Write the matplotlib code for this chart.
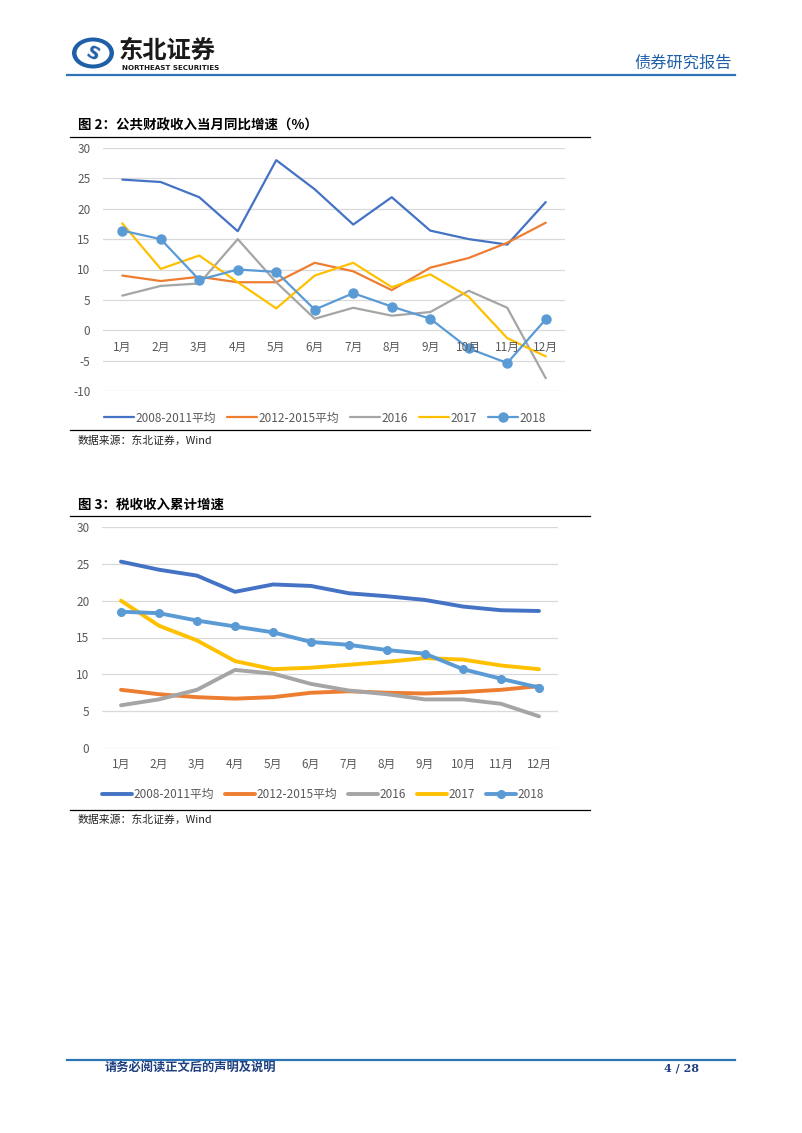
import matplotlib
matplotlib.use("Agg")
import matplotlib.pyplot as plt
from matplotlib.lines import Line2D
from matplotlib.patches import Ellipse
import matplotlib.transforms as mtransforms

plt.rcParams['font.family'] = ['Noto Sans CJK SC', 'DejaVu Sans']
plt.rcParams['axes.unicode_minus'] = False

# data
months = ['1月', '2月', '3月', '4月', '5月', '6月', '7月', '8月', '9月', '10月', '11月', '12月']
series_names = ['2008-2011平均', '2012-2015平均', '2016', '2017', '2018']

# 图2: 公共财政收入当月同比增速 (%)
monthly_0811 = [24.8, 24.4, 21.9, 16.3, 28.0, 23.2, 17.4, 21.9, 16.4, 15.0, 14.1, 21.1]
monthly_1215 = [9.0, 8.1, 8.8, 7.9, 7.9, 11.1, 9.7, 6.6, 10.3, 11.9, 14.4, 17.7]
monthly_2016 = [5.7, 7.3, 7.7, 15.0, 7.9, 1.9, 3.7, 2.4, 3.0, 6.5, 3.7, -7.9]
monthly_2017 = [17.6, 10.1, 12.3, 7.9, 3.6, 9.0, 11.1, 7.1, 9.2, 5.5, -1.3, -4.3]
monthly_2018 = [16.4, 15.0, 8.3, 10.0, 9.6, 3.4, 6.1, 3.9, 1.9, -3.0, -5.4, 1.8]

# 图3: 税收收入累计增速
cum_0811 = [25.3, 24.2, 23.4, 21.2, 22.2, 22.0, 21.0, 20.6, 20.1, 19.2, 18.7, 18.6]
cum_1215 = [7.9, 7.3, 6.9, 6.7, 6.9, 7.5, 7.7, 7.5, 7.4, 7.6, 7.9, 8.4]
cum_2016 = [5.8, 6.6, 7.9, 10.6, 10.1, 8.7, 7.8, 7.3, 6.6, 6.6, 6.0, 4.3]
cum_2017 = [20.0, 16.6, 14.6, 11.8, 10.7, 10.9, 11.3, 11.7, 12.2, 12.0, 11.2, 10.7]
cum_2018 = [18.5, 18.3, 17.3, 16.5, 15.7, 14.4, 14.0, 13.3, 12.8, 10.7, 9.4, 8.2]

colors = ['#4472C4', '#ED7D31', '#A5A5A5', '#FFC000', '#5B9BD5']

W, H = 802, 1133
fig = plt.figure(figsize=(W / 100, H / 100), dpi=100)


def fx(px):
    return px / W


def fy(py):
    return 1 - py / H


def hline(x0, x1, y, color='black', lw=0.9):
    fig.add_artist(Line2D([fx(x0), fx(x1)], [fy(y), fy(y)], color=color, lw=lw,
                          transform=fig.transFigure))


def ellipse(cx, cy, w, h, color):
    fig.add_artist(Ellipse((fx(cx), fy(cy)), w / W, h / H, transform=fig.transFigure,
                           facecolor=color, edgecolor='none'))


# header: logo + names
ellipse(93, 53, 42, 31, '#1F5FA8')
ellipse(93, 53, 33, 23, 'white')
fig.text(fx(93), fy(54), 'S', color='#1F5FA8', fontsize=13, fontweight='bold',
         ha='center', va='center', rotation=-25, family='DejaVu Sans')
fig.text(fx(119), fy(51), '东北证券', fontsize=17.5, fontweight='bold', color='#1a1a1a',
         ha='left', va='center')
fig.text(fx(122), fy(67.5), 'NORTHEAST SECURITIES', fontsize=5.1, fontweight='bold',
         color='#1a1a1a', ha='left', va='center', family='DejaVu Sans')
fig.text(fx(732), fy(63.5), '债券研究报告', fontsize=11.7, color='#1F5FA8',
         ha='right', va='center')
hline(67, 735, 75, color='#2E75B6', lw=1.6)

# footer
hline(67, 735, 1060, color='#2E75B6', lw=1.6)
fig.text(fx(105), fy(1068), '请务必阅读正文后的声明及说明', fontsize=8.8, fontweight='bold',
         color='#1F3F7F', ha='left', va='center')
fig.text(fx(699), fy(1068), '4 / 28', fontsize=8, fontweight='bold',
         color='#1F3F7F', ha='right', va='center', family='DejaVu Serif')


def draw_chart(rect, data, ylim, yticks, lw, msize, title, title_y, legend_xy,
               bottom_line_y, source_y, label_at_zero):
    ax = fig.add_axes(rect)
    x = list(range(len(months)))
    for i, (vals, name) in enumerate(zip(data, series_names)):
        if name == '2018':
            ax.plot(x, vals, color=colors[i], lw=lw, marker='o', markersize=msize,
                    label=name, zorder=3, solid_capstyle='round')
        else:
            ax.plot(x, vals, color=colors[i], lw=lw, label=name, zorder=2 + i * 0.1,
                    solid_capstyle='round')
    ax.set_xlim(-0.5, len(months) - 0.5)
    ax.set_ylim(*ylim)
    ax.set_yticks(yticks)
    for y in yticks:
        ax.axhline(y, color='#D9D9D9', lw=0.9, zorder=1)
    for s in ax.spines.values():
        s.set_visible(False)
    ax.tick_params(axis='y', length=0, labelsize=8.5, labelcolor='#595959', pad=9)
    ax.tick_params(axis='x', length=0)
    if label_at_zero:
        # category labels sit next to the zero line
        ax.set_xticks([])
        trans = mtransforms.offset_copy(ax.transData, fig=fig, x=0, y=-17, units='dots')
        for i, m in enumerate(months):
            ax.text(i, 0, m, transform=trans, ha='center', va='center',
                    fontsize=8.5, color='#595959', zorder=5)
    else:
        ax.set_xticks(x)
        ax.set_xticklabels(months, fontsize=8.5, color='#595959')
        ax.tick_params(axis='x', pad=7)
    ax.set_facecolor('none')

    fig.legend(*ax.get_legend_handles_labels(), loc='center',
               bbox_to_anchor=legend_xy, ncol=5, frameon=False,
               fontsize=8.5, handlelength=2.55, handletextpad=0.1,
               columnspacing=0.95, labelcolor='#595959')
    fig.text(fx(78), fy(title_y), title, fontsize=9.7, fontweight='bold',
             ha='left', va='center')
    hline(70, 590, title_y + 11)
    hline(70, 590, bottom_line_y)
    fig.text(fx(78), fy(source_y), '数据来源：东北证券，Wind', fontsize=7.8,
             ha='left', va='center', color='#222222')
    return ax


draw_chart([fx(103), fy(391), fx(565) - fx(103), fy(148) - fy(391)],
           [monthly_0811, monthly_1215, monthly_2016, monthly_2017, monthly_2018],
           (-10, 30), [-10, -5, 0, 5, 10, 15, 20, 25, 30], 1.6, 6.5,
           '图 2：公共财政收入当月同比增速（%）', 126, (fx(325), fy(418)),
           430, 441, True)

draw_chart([fx(102), fy(748), fx(558) - fx(102), fy(527) - fy(748)],
           [cum_0811, cum_1215, cum_2016, cum_2017, cum_2018],
           (0, 30), [0, 5, 10, 15, 20, 25, 30], 2.8, 5.5,
           '图 3：税收收入累计增速', 505, (fx(323), fy(794.5)),
           810, 820, False)

fig.savefig('out.png', dpi=100)
